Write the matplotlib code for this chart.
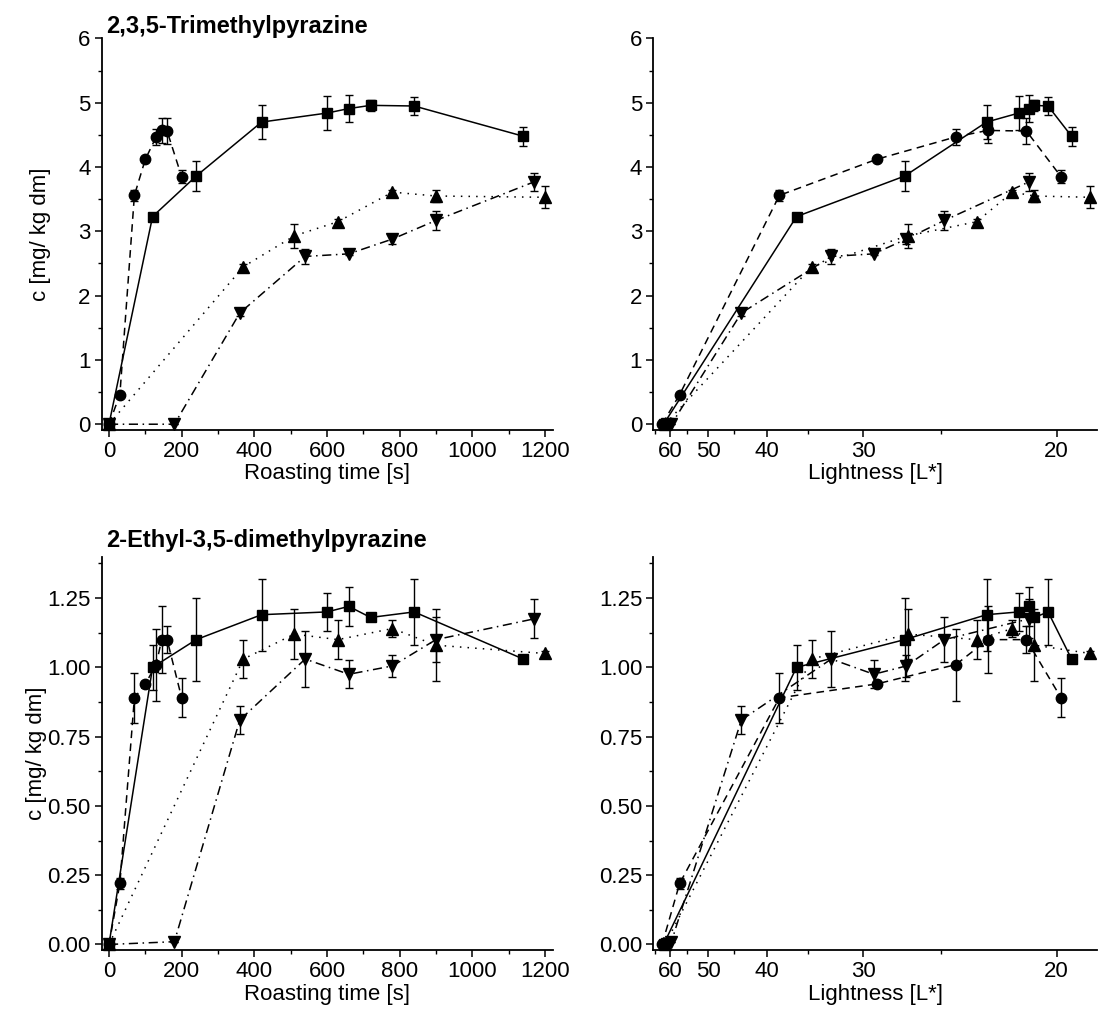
import numpy as np
import matplotlib
matplotlib.use("Agg")
import matplotlib.pyplot as plt
from matplotlib.ticker import MultipleLocator, FixedLocator, FixedFormatter

plt.rcParams['font.family'] = ['Liberation Sans', 'DejaVu Sans']

# ---------------- data ----------------
# Series 1 (squares, solid)
sq_time = [0, 120, 240, 420, 600, 660, 720, 840, 1140]
sq_L = [62.0, 36.25, 27.1, 22.75, 21.4, 21.0, 20.8, 20.3, 19.5]
sq_tmp = [0, 3.23, 3.86, 4.70, 4.84, 4.91, 4.96, 4.95, 4.48]
sq_tmp_err = [0, 0.02, 0.24, 0.26, 0.26, 0.21, 0.09, 0.14, 0.15]
sq_edp = [0, 1.00, 1.10, 1.19, 1.20, 1.22, 1.18, 1.20, 1.03]
sq_edp_err = [0, 0.08, 0.15, 0.13, 0.07, 0.07, 0.01, 0.12, 0.01]

# Series 2 (circles, dashed)
ci_time = [0, 30, 70, 100, 130, 145, 160, 200]
ci_L = [62.5, 57.1, 38.3, 29.0, 24.2, 22.7, 21.1, 19.85]
ci_tmp = [0, 0.46, 3.56, 4.12, 4.47, 4.57, 4.56, 3.85]
ci_tmp_err = [0, 0.02, 0.09, 0.03, 0.12, 0.20, 0.20, 0.10]
ci_edp = [0, 0.22, 0.89, 0.94, 1.01, 1.10, 1.10, 0.89]
ci_edp_err = [0, 0.02, 0.09, 0.01, 0.13, 0.12, 0.05, 0.07]

# Series 3 (up triangles, dotted)
tu_time = [0, 370, 510, 630, 780, 900, 1200]
tu_L = [61.5, 34.6, 26.9, 23.2, 21.65, 20.8, 18.9]
tu_tmp = [0, 2.45, 2.93, 3.15, 3.61, 3.55, 3.53]
tu_tmp_err = [0, 0.04, 0.19, 0.04, 0.03, 0.10, 0.17]
tu_edp = [0, 1.03, 1.12, 1.10, 1.14, 1.08, 1.05]
tu_edp_err = [0, 0.07, 0.09, 0.07, 0.03, 0.13, 0.01]

# Series 4 (down triangles, dash-dot)
td_time = [0, 180, 360, 540, 660, 780, 900, 1170]
td_L = [61.0, 59.5, 43.8, 32.7, 29.2, 27.0, 24.8, 21.0]
td_tmp = [0, 0, 1.73, 2.61, 2.65, 2.88, 3.17, 3.77]
td_tmp_err = [0, 0, 0.05, 0.12, 0.02, 0.07, 0.15, 0.14]
td_edp = [0, 0.01, 0.81, 1.03, 0.975, 1.005, 1.10, 1.175]
td_edp_err = [0, 0, 0.05, 0.10, 0.05, 0.04, 0.08, 0.07]

time_ticks = [0, 200, 400, 600, 800, 1000, 1200]
L_ticks = [60, 50, 40, 30, 20]
L_minor = [65, 55, 45, 35, 25]

titles = ["2,3,5-Trimethylpyrazine", "2-Ethyl-3,5-dimethylpyrazine"]
ylabel = "c [mg/ kg dm]"
xlabel_time = "Roasting time [s]"
xlabel_L = "Lightness [L*]"

# ---------------- styles ----------------
FS = 16
styles = [
    dict(marker='s', ms=7, ls='-'),
    dict(marker='o', ms=7.5, ls=(0, (5, 3.5))),
    dict(marker='^', ms=8.5, ls=(0, (1, 4))),
    dict(marker='v', ms=8.5, ls=(0, (6, 3, 1, 3))),
]


def recip(x):
    x = np.asarray(x, dtype=float)
    with np.errstate(divide='ignore', invalid='ignore'):
        return 1.0 / x


fig = plt.figure(figsize=(10.99, 10.21), dpi=100)

W = 1099.0
H = 1021.0


def axes_px(l, r, b, t):
    return fig.add_axes([l / W, 1 - b / H, (r - l) / W, (b - t) / H])


ax_tl = axes_px(101.7, 553, 430, 38.5)
ax_tr = axes_px(653.3, 1097, 430, 38.5)
ax_bl = axes_px(101.7, 553, 950, 556.5)
ax_br = axes_px(653.3, 1097, 950, 556.5)

top_series = [
    (sq_time, sq_L, sq_tmp, sq_tmp_err),
    (ci_time, ci_L, ci_tmp, ci_tmp_err),
    (tu_time, tu_L, tu_tmp, tu_tmp_err),
    (td_time, td_L, td_tmp, td_tmp_err),
]
bot_series = [
    (sq_time, sq_L, sq_edp, sq_edp_err),
    (ci_time, ci_L, ci_edp, ci_edp_err),
    (tu_time, tu_L, tu_edp, tu_edp_err),
    (td_time, td_L, td_edp, td_edp_err),
]


def draw(ax, series, use_L):
    for (t, L, y, e), st in zip(series, styles):
        x = L if use_L else t
        ax.errorbar(x, y, yerr=e, color='black', ecolor='black',
                    marker=st['marker'], ms=st['ms'], ls=st['ls'], lw=1.1,
                    elinewidth=1.0, capsize=3, capthick=1.0, mec='black',
                    mfc='black', zorder=3, clip_on=False)


def style_axes(ax):
    for s in ['top', 'right']:
        ax.spines[s].set_visible(False)
    for s in ['left', 'bottom']:
        ax.spines[s].set_linewidth(1.3)
    ax.tick_params(which='major', direction='out', length=5, width=1.1,
                   labelsize=FS, pad=3)
    ax.tick_params(which='minor', direction='out', length=3, width=1.0)


for ax, series, use_L, ylim, ymaj, ymin, ylab_x in [
    (ax_tl, top_series, False, (-0.09, 6.0), 1, 0.5, -0.112),
    (ax_tr, top_series, True, (-0.09, 6.0), 1, 0.5, None),
    (ax_bl, bot_series, False, (-0.02, 1.40), 0.25, 0.125, -0.122),
    (ax_br, bot_series, True, (-0.02, 1.40), 0.25, 0.125, None),
]:
    if use_L:
        ax.set_xscale('function', functions=(recip, recip))
        ax.set_xlim(18.7, 65.6)
        ax.xaxis.set_major_locator(FixedLocator(L_ticks))
        ax.xaxis.set_major_formatter(FixedFormatter([str(v) for v in L_ticks]))
        ax.xaxis.set_minor_locator(FixedLocator(L_minor))
        ax.xaxis.set_minor_formatter(FixedFormatter([''] * len(L_minor)))
        ax.set_xlabel(xlabel_L, fontsize=FS, labelpad=1)
    else:
        ax.set_xlim(-20, 1222)
        ax.xaxis.set_major_locator(FixedLocator(time_ticks))
        ax.xaxis.set_minor_locator(MultipleLocator(100))
        ax.set_xlabel(xlabel_time, fontsize=FS, labelpad=1)
    draw(ax, series, use_L)
    ax.set_ylim(*ylim)
    ax.yaxis.set_major_locator(MultipleLocator(ymaj))
    ax.yaxis.set_minor_locator(MultipleLocator(ymin))
    if ymaj < 1:
        ax.yaxis.set_major_formatter(plt.FuncFormatter(lambda v, p: f"{v:.2f}"))
    else:
        ax.yaxis.set_major_formatter(plt.FuncFormatter(lambda v, p: f"{v:.0f}"))
    if ylab_x is not None:
        ax.set_ylabel(ylabel, fontsize=FS)
        ax.yaxis.set_label_coords(ylab_x, 0.5)
    style_axes(ax)

fig.text(106 / W, 1 - 33 / H, titles[0], fontsize=17, fontweight='bold',
         ha='left', va='baseline')
fig.text(106 / W, 1 - 547 / H, titles[1], fontsize=17, fontweight='bold',
         ha='left', va='baseline')

fig.savefig("out.png", dpi=100)
